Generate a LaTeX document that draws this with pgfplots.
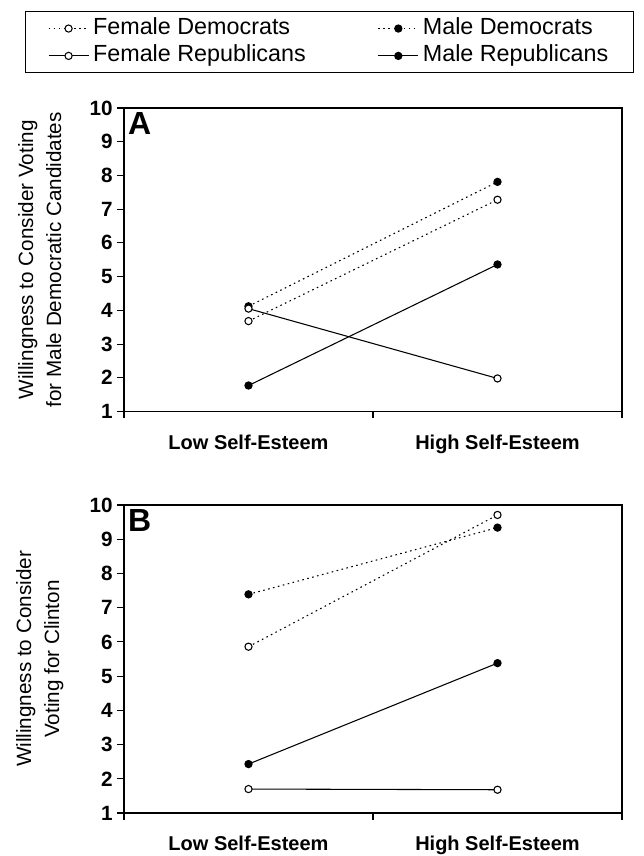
\documentclass[border=0pt]{standalone}
\usepackage{fontspec}
\setmainfont{Liberation Sans}
\usepackage{pgfplots}
\pgfplotsset{compat=1.18}

\pgfplotsset{
  panel/.style={
    scale only axis, width=373.5pt,
    xmin=0, xmax=2, ymin=1, ymax=10,
    ytick={1,2,3,4,5,6,7,8,9,10},
    xtick={0,1,2}, xticklabels={},
    extra x ticks={0.5,1.5},
    extra x tick labels={Low Self-Esteem, High Self-Esteem},
    extra x tick style={major tick length=0pt},
    tick align=outside, major tick length=5pt,
    xtick pos=left, ytick pos=left,
    axis line style={line width=0.8pt},
    tick style={line width=0.8pt, black},
    /pgf/number format/assume math mode=true,
    yticklabel style={font=\bfseries\fontsize{15.5}{18}\selectfont},
    xticklabel style={font=\bfseries\fontsize{15}{18}\selectfont, yshift=-14pt},
    every axis y label/.style={at={(axis description cs:-0.169,0.5)}, rotate=90, anchor=center,
      font=\fontsize{15.5}{21}\selectfont, align=center},
    clip=false,
  },
  fd/.style={black, line width=0.8pt, dash pattern=on 1.2pt off 2.6pt, mark=*,
    mark options={solid, fill=white, line width=0.8pt}, mark size=2.7pt},
  md/.style={black, line width=0.8pt, dash pattern=on 1.2pt off 2.6pt, mark=*,
    mark options={solid, fill=black, line width=0.8pt}, mark size=2.7pt},
  fr/.style={black, line width=0.8pt, solid, mark=*,
    mark options={solid, fill=white, line width=0.8pt}, mark size=2.7pt},
  mr/.style={black, line width=0.8pt, solid, mark=*,
    mark options={solid, fill=black, line width=0.8pt}, mark size=2.7pt},
}

\begin{document}
\begin{tikzpicture}
\useasboundingbox (0pt,0pt) rectangle (482.25pt,-642pt);

% Panel A
\begin{axis}[panel, at={(93pt,-308.6pt)}, anchor=south west, height=227.6pt,
  ylabel={Willingness to Consider Voting\\for Male Democratic Candidates},
  legend columns=2,
  legend cell align=left,
  legend image code/.code={\draw[mark repeat=2,mark phase=2,#1] plot coordinates {(0pt,0pt) (15pt,0pt) (30pt,0pt)};},
  legend style={at={(axis description cs:0.4127,1.3196)}, anchor=north,
    draw=black, line width=0.8pt, inner xsep=17pt, inner ysep=2.5pt,
    font=\fontsize{17.5}{20}\selectfont,
    nodes={inner sep=2pt, text height=12.5pt, text depth=4pt},
    /tikz/every odd column/.append style={column sep=1pt},
    /tikz/every even column/.append style={column sep=52pt}},
]
\addplot[fd] coordinates {(0.5,3.68) (1.5,7.28)};
\addlegendentry{Female Democrats}
\addplot[md] coordinates {(0.5,4.12) (1.5,7.81)};
\addlegendentry{Male Democrats}
\addplot[fr] coordinates {(0.5,4.05) (1.5,1.98)};
\addlegendentry{Female Republicans}
\addplot[mr] coordinates {(0.5,1.77) (1.5,5.36)};
\addlegendentry{Male Republicans}
\node[anchor=north west, inner sep=0pt, font=\bfseries\fontsize{24}{24}\selectfont] at (rel axis cs:0.008,0.987) {A};
\end{axis}

% Panel B
\begin{axis}[panel, at={(93pt,-609.75pt)}, anchor=south west, height=231pt,
  ylabel={Willingness to Consider\\Voting for Clinton},
]
\addplot[fd] coordinates {(0.5,5.86) (1.5,9.71)};
\addplot[md] coordinates {(0.5,7.39) (1.5,9.34)};
\addplot[fr] coordinates {(0.5,1.70) (1.5,1.68)};
\addplot[mr] coordinates {(0.5,2.43) (1.5,5.38)};
\node[anchor=north west, inner sep=0pt, font=\bfseries\fontsize{24}{24}\selectfont] at (rel axis cs:0.008,0.987) {B};
\end{axis}
\end{tikzpicture}
\end{document}
